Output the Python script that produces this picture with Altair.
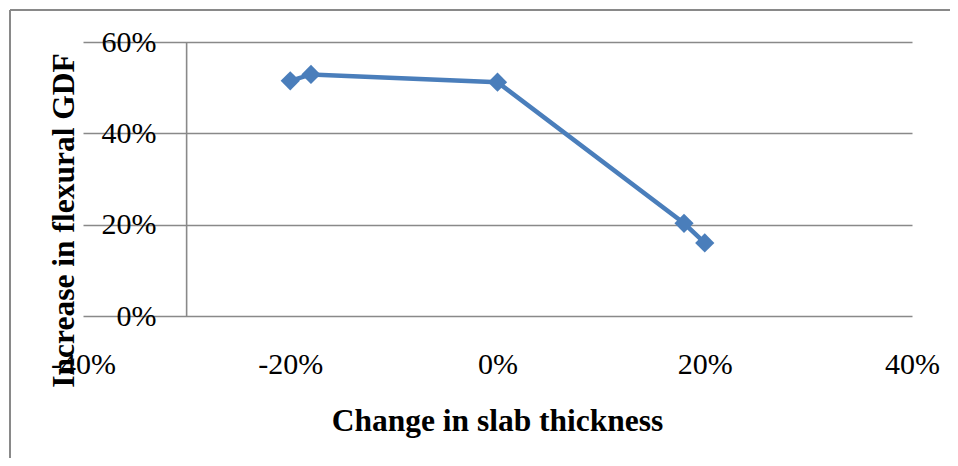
import altair as alt
import pandas as pd

# Data
slab_change = [-0.20, -0.18, 0.00, 0.18, 0.20]
gdf_increase = [0.515, 0.529, 0.512, 0.203, 0.160]

x_ticks = [-0.4, -0.2, 0.0, 0.2, 0.4]
y_ticks = [0.0, 0.2, 0.4, 0.6]
y_axis_cross = -0.3

FONT = "Liberation Serif"
BLUE = "#4A7EBB"
GRID = "#898989"

df = pd.DataFrame({"x": slab_change, "y": gdf_increase})

x_scale = alt.Scale(domain=[-0.4, 0.4], nice=False, zero=False)
y_scale = alt.Scale(domain=[0, 0.6], nice=False)

x_axis = alt.Axis(
    values=x_ticks,
    labelExpr="(datum.value < 0 ? '-' : '') + format(abs(datum.value), '.0%')",
    ticks=False, domain=False, grid=False,
    labelFont=FONT, labelFontSize=30, labelColor="black",
    labelBaseline="alphabetic", labelPadding=57, labelFlush=False,
    labelOverlap=False,
    title="Change in slab thickness",
    titleFont=FONT, titleFontSize=31.5, titleFontWeight="bold", titleColor="black",
    titleX=414, titleY=114, titleBaseline="alphabetic", titleAlign="center",
)

y_axis = alt.Axis(
    values=y_ticks, format=".0%",
    ticks=False, domain=False, grid=True,
    gridColor=GRID, gridWidth=1.6,
    labelFont=FONT, labelFontSize=30, labelColor="black",
    labelAlign="right", labelBaseline="middle", labelPadding=-73,
    labelOverlap=False,
    title="Increase in flexural GDF",
    titleFont=FONT, titleFontSize=31.5, titleFontWeight="bold", titleColor="black",
    titleAngle=270, titleX=-10, titleY=178, titleBaseline="alphabetic",
    titleAlign="center",
)

base = alt.Chart(df)

line = base.mark_line(color=BLUE, strokeWidth=4.5).encode(
    x=alt.X("x:Q", scale=x_scale, axis=x_axis),
    y=alt.Y("y:Q", scale=y_scale, axis=y_axis),
)

pts = base.mark_point(shape="diamond", filled=True, size=370, color=BLUE, opacity=1).encode(
    x=alt.X("x:Q", scale=x_scale),
    y=alt.Y("y:Q", scale=y_scale),
)

vaxis = alt.Chart(pd.DataFrame({"x": [y_axis_cross]})).mark_rule(
    color=GRID, strokeWidth=1.6
).encode(
    x=alt.X("x:Q", scale=x_scale),
    y=alt.value(0), y2=alt.value(274),
)

border_top = alt.Chart(pd.DataFrame({"a": [0]})).mark_rule(
    color=GRID, strokeWidth=2
).encode(x=alt.value(-73), x2=alt.value(867), y=alt.value(-32))

border_left = alt.Chart(pd.DataFrame({"a": [0]})).mark_rule(
    color=GRID, strokeWidth=2
).encode(x=alt.value(-73), y=alt.value(-32), y2=alt.value(416))

chart = alt.layer(vaxis, line, pts, border_top, border_left).properties(
    width=829, height=274,
    autosize=alt.AutoSizeParams(type="none"),
    padding={"left": 75, "top": 34, "right": 38, "bottom": 142},
    background="white",
).configure_view(stroke=None)

chart.save("out.html", embed_options={"renderer": "svg", "actions": False})
